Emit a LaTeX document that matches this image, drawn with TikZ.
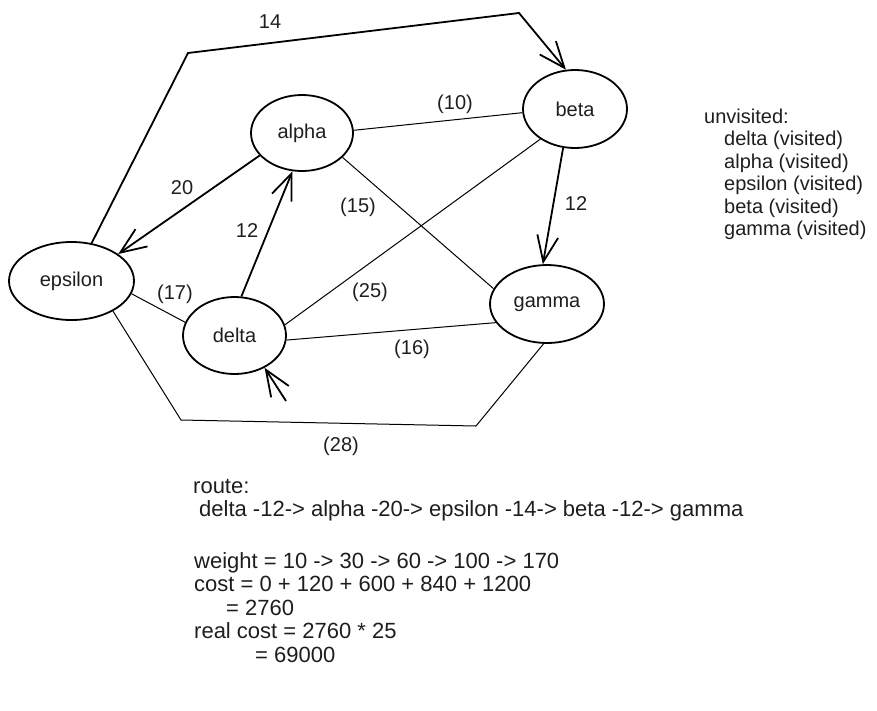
\documentclass[tikz,border=0pt]{standalone}
\usepackage{fontspec}
\setmainfont{Liberation Sans}
\usetikzlibrary{arrows.meta,shapes.geometric}
\definecolor{ink}{RGB}{30,30,30}
\tikzset{
  every node/.style={font=\fontsize{20}{24}\selectfont, inner sep=0pt, text=ink},
  state/.style={ellipse, draw=black, line width=1.8pt},
  thin edge/.style={draw=black, line width=1pt},
  arrow edge/.style={draw=black, line width=1.8pt, -{Straight Barb[length=26pt,width=21pt]}},
  lbl/.style={},
  txtline/.style={anchor=west, text height=14pt, text depth=4pt},
  bigline/.style={anchor=west, text height=15.5pt, text depth=4.5pt, font=\fontsize{22}{24}\selectfont},
}
\begin{document}
\begin{tikzpicture}[x=1pt,y=-1pt]
\useasboundingbox (0,0) rectangle (877,710);
% nodes
\node[state, minimum width=125pt, minimum height=78pt] (eps) at (71.5,281) {epsilon};
\node[state, minimum width=102pt, minimum height=76pt] (alpha) at (302,133) {alpha};
\node[state, minimum width=104pt, minimum height=78pt] (beta) at (575,109) {beta};
\node[state, minimum width=103pt, minimum height=77pt] (delta) at (234.5,335.5) {delta};
\node[state, minimum width=114pt, minimum height=78pt] (gamma) at (547,304) {gamma};
% corners
\coordinate (c14a) at (188,53);
\coordinate (c14b) at (519,13);
\coordinate (c28a) at (181,420);
\coordinate (c28b) at (476,426);
\coordinate (start) at (286,401);
% edges
\draw[thin edge] (alpha.3) -- (beta.184);
\draw[thin edge] (alpha.329) -- (gamma.164);
\draw[thin edge] (beta.221) -- (delta.12);
\draw[thin edge] (eps.348) -- (delta.165);
\draw[thin edge] (delta.355) -- (gamma.200);
\draw[thin edge] (eps.324) -- (c28a) -- (c28b) -- (gamma.265);
\draw[arrow edge] (eps.62) -- (c14a) -- (c14b) -- (beta.103);
\draw[arrow edge] (alpha.208) -- (eps.30);
\draw[arrow edge] (delta.80) -- (alpha.256);
\draw[arrow edge] (beta.253) -- (gamma.96);
\draw[arrow edge] (start) -- (delta.313);
% edge labels
\node[lbl] (t14) at (270,22) {14};
\node[lbl] (t10) at (455,104) {(10)};
\node[lbl] (t20) at (182,188) {20};
\node[lbl] (t12a) at (247,231) {12};
\node[lbl] (t15) at (358,207) {(15)};
\node[lbl] (t12b) at (576,204) {12};
\node[lbl] (t17) at (175,294) {(17)};
\node[lbl] (t25) at (370,292) {(25)};
\node[lbl] (t16) at (412,349) {(16)};
\node[lbl] (t28) at (341,446) {(28)};
% unvisited list
\node[txtline] (u0) at (704,118) {unvisited:};
\node[txtline] (u1) at (724,140.5) {delta (visited)};
\node[txtline] (u2) at (724,163) {alpha (visited)};
\node[txtline] (u3) at (724,185.5) {epsilon (visited)};
\node[txtline] (u4) at (724,208) {beta (visited)};
\node[txtline] (u5) at (724,230.5) {gamma (visited)};
% route text
\node[bigline] (r1) at (193,488) {route:};
\node[bigline] (r2) at (199,511) {delta -12-> alpha -20-> epsilon -14-> beta -12-> gamma};
\node[bigline] (r3) at (194,563) {weight = 10 -> 30 -> 60 -> 100 -> 170};
\node[bigline] (r4) at (194,586) {cost = 0 + 120 + 600 + 840 + 1200};
\node[bigline] (r5) at (226,610) {= 2760};
\node[bigline] (r6) at (194,633) {real cost = 2760 * 25};
\node[bigline] (r7) at (255,657) {= 69000};
\end{tikzpicture}
\end{document}
